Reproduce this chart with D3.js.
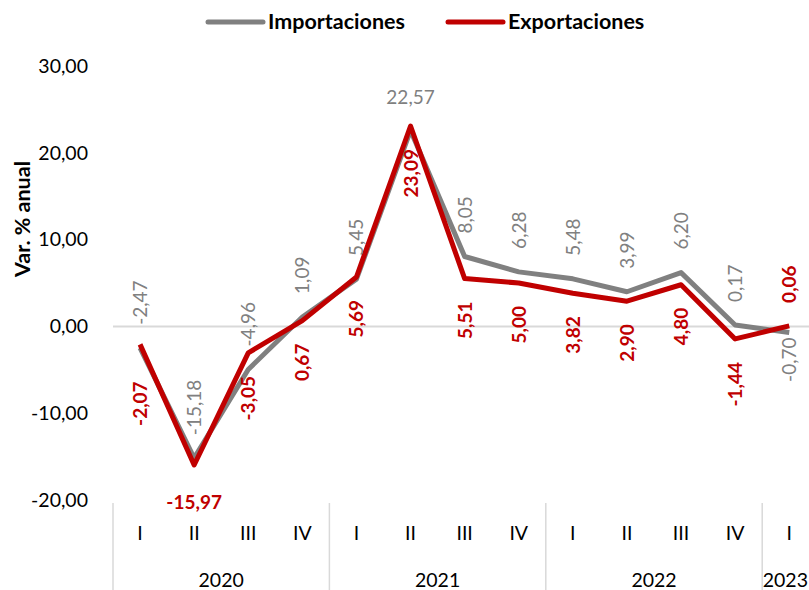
<!DOCTYPE html>
<html>
<head>
<meta charset="utf-8">
<script src="https://cdn.jsdelivr.net/npm/d3@7"></script>
<style>
  body { margin: 0; background: #fff; }
  svg { display: block; font-family: Lato, "Open Sans", sans-serif; }
</style>
</head>
<body>
<div id="chart"></div>
<script>
const width = 809;
const height = 590;

// trimestres y años
const quarters = ["I", "II", "III", "IV", "I", "II", "III", "IV", "I", "II", "III", "IV", "I"];
const years = ["2020", "2021", "2022", "2023"];
const yearSpan = [4, 4, 4, 1];

// variación % anual
const importaciones = [-2.47, -15.18, -4.96, 1.09, 5.45, 22.57, 8.05, 6.28, 5.48, 3.99, 6.20, 0.17, -0.70];
const exportaciones = [-2.07, -15.97, -3.05, 0.67, 5.69, 23.09, 5.51, 5.00, 3.82, 2.90, 4.80, -1.44, 0.06];

// posición de las etiquetas: a = arriba, b = abajo, t = encima horizontal, u = debajo horizontal
const impPos = ["a", "a", "a", "a", "a", "t", "a", "a", "a", "a", "a", "a", "b"];
const expPos = ["b", "u", "b", "b", "b", "b", "b", "b", "b", "b", "b", "b", "a"];

const yTicks = [-20, -10, 0, 10, 20, 30];

const svg = d3.select("#chart")
    .append("svg")
    .attr("width", width)
    .attr("height", height);

const x = d3.scaleBand()
    .domain(d3.range(quarters.length))
    .range([113, 113 + 54.1 * quarters.length]);
const cx = (i) => x(i) + x.bandwidth() / 2;

const y = d3.scaleLinear()
    .domain([-20, 30])
    .range([500, 66]);

const fmt = (v) => v.toFixed(2).replace(".", ",");

// eje y
const yAxis = svg.append("g")
    .attr("transform", "translate(95,0)")
    .call(d3.axisLeft(y).tickValues(yTicks).tickSize(0).tickPadding(7).tickFormat(fmt));
yAxis.select(".domain").remove();
yAxis.selectAll("text")
    .attr("font-size", 19.5)
    .attr("font-family", "Lato, sans-serif")
    .attr("fill", "#000");

svg.append("text")
    .attr("transform", "translate(30,219) rotate(-90)")
    .attr("text-anchor", "middle")
    .attr("font-size", 21.5)
    .attr("font-weight", "bold")
    .text("Var. % anual");

// línea de cero
svg.append("line")
    .attr("x1", 113).attr("x2", width)
    .attr("y1", y(0)).attr("y2", y(0))
    .attr("stroke", "#d9d9d9")
    .attr("stroke-width", 2);

// eje x de dos niveles
svg.append("g")
    .selectAll("text")
    .data(quarters)
    .join("text")
    .attr("x", (d, i) => cx(i))
    .attr("y", 540)
    .attr("text-anchor", "middle")
    .attr("font-size", 19.5)
    .text((d) => d);

let start = 0;
const groups = years.map((yr, k) => {
    const g = {year: yr, from: start, to: start + yearSpan[k]};
    start += yearSpan[k];
    return g;
});

svg.append("g")
    .selectAll("line")
    .data(groups)
    .join("line")
    .attr("x1", (d) => x(d.from)).attr("x2", (d) => x(d.from))
    .attr("y1", 503).attr("y2", height)
    .attr("stroke", "#d9d9d9")
    .attr("stroke-width", 1.5);

svg.append("g")
    .selectAll("text")
    .data(groups)
    .join("text")
    .attr("y", 587)
    .attr("text-anchor", "middle")
    .attr("font-size", 19.5)
    .text((d) => d.year)
    .attr("x", function (d) {
        const c = x(d.from) + x.bandwidth() * (d.to - d.from) / 2;
        const half = this.getComputedTextLength() / 2;
        return Math.min(c, width - half - 1);
    });

// líneas
const line = d3.line()
    .x((d, i) => cx(i))
    .y((d) => y(d));

const series = [
    {name: "Importaciones", values: importaciones, color: "#808080", pos: impPos, weight: "normal"},
    {name: "Exportaciones", values: exportaciones, color: "#c00000", pos: expPos, weight: "bold"}
];

series.forEach((s) => {
    svg.append("path")
        .datum(s.values)
        .attr("d", line)
        .attr("fill", "none")
        .attr("stroke", s.color)
        .attr("stroke-width", 5)
        .attr("stroke-linejoin", "round");
});

// etiquetas de datos
const gap = 23;
const nudge = {"Exportaciones-0": 14, "Importaciones-12": -18};

series.forEach((s) => {
    const g = svg.append("g");
    s.values.forEach((v, i) => {
        const p = s.pos[i];
        const px = cx(i);
        const py = y(v);
        const extra = nudge[s.name + "-" + i] || 0;
        const t = g.append("text")
            .attr("fill", s.color)
            .attr("font-size", 19)
            .attr("font-weight", s.weight)
            .text(fmt(v));
        if (p === "a") {
            t.attr("transform", `translate(${px + 7},${py - gap - extra}) rotate(-90)`)
                .attr("text-anchor", "start");
        } else if (p === "b") {
            t.attr("transform", `translate(${px + 7},${py + gap + extra}) rotate(-90)`)
                .attr("text-anchor", "end");
        } else if (p === "t") {
            t.attr("x", px).attr("y", py - 26).attr("text-anchor", "middle");
        } else {
            t.attr("x", px).attr("y", py + 44).attr("text-anchor", "middle");
        }
    });
});

// leyenda
const legend = svg.append("g");
const legendItems = [
    {s: series[0], x: 208},
    {s: series[1], x: 448}
];
legendItems.forEach((d) => {
    legend.append("line")
        .attr("x1", d.x).attr("x2", d.x + 55)
        .attr("y1", 22).attr("y2", 22)
        .attr("stroke", d.s.color)
        .attr("stroke-width", 5)
        .attr("stroke-linecap", "round");
    legend.append("text")
        .attr("x", d.x + 60)
        .attr("y", 29)
        .attr("font-size", 21.5)
        .attr("font-weight", "bold")
        .text(d.s.name);
});
</script>
</body>
</html>
